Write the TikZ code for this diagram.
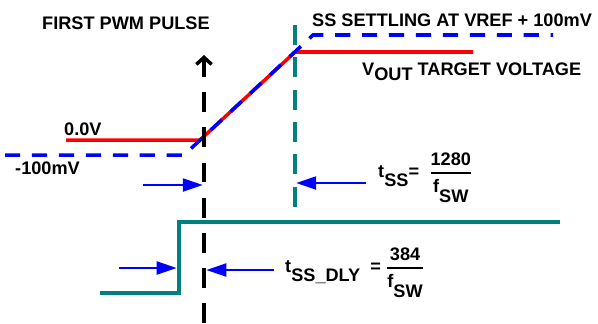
\documentclass[tikz,border=0pt]{standalone}
\usepackage{amsmath}
\usepackage{fontspec}
\setmainfont{Liberation Sans}
\usetikzlibrary{arrows.meta}
\newcommand{\lowsub}[2][8.5pt]{\raisebox{-#1}{#2}}
\tikzset{
  lbl/.style={font=\fontsize{15.5}{18}\selectfont\bfseries, inner sep=0pt},
  vtarget/.style={red, line width=3pt},
  ssramp/.style={blue, line width=3pt, dash pattern=on 13pt off 10pt},
  pwmline/.style={black, line width=3pt, dash pattern=on 17pt off 13pt},
  swline/.style={teal, line width=3pt},
  settle/.style={teal, line width=3pt, dash pattern=on 17pt off 10.6pt},
  dimarrow/.style={blue, line width=2pt, -{Triangle[length=17pt,width=11pt]}},
}
\begin{document}
\begin{tikzpicture}[x=0.03cm, y=-0.03cm]
\useasboundingbox (0,0) rectangle (598,323);
% vout target (red) and soft-start ramp (blue)
\coordinate (r0) at (66,140);
\coordinate (r1) at (200,140);
\coordinate (r2) at (295,52);
\coordinate (r3) at (473,52);
\coordinate (b0) at (5,155);
\coordinate (b1) at (184,155);
\coordinate (b2) at (313,35);
\coordinate (b3) at (553,35);
\draw[vtarget] (r0) -- (r1) -- (r2) -- (r3);
\draw[ssramp] (b0) -- (b1) -- (b2) -- (b3);
% first pwm pulse marker
\coordinate (pwmbot) at (204,323);
\coordinate (pwmtop) at (204,55);
\draw[pwmline, -{Straight Barb[length=6pt,width=13pt]}] (pwmbot) -- (pwmtop);
% settling marker
\coordinate (settop) at (295,25);
\coordinate (setbot) at (295,207);
\draw[settle] (settop) -- (setbot);
% switching node
\coordinate (s0) at (100,293);
\coordinate (s1) at (179,293);
\coordinate (s2) at (179,222);
\coordinate (s3) at (560,222);
\draw[swline] (s0) -- (s1) -- (s2) -- (s3);
% labels
\node[lbl, anchor=base west] (pwmlbl) at (42,29) {FIRST PWM PULSE};
\node[lbl, anchor=base west] (setlbl) at (312,26) {SS SETTLING AT VREF + 100mV};
\node[lbl, anchor=base west] (voutlbl) at (362,75) {V\lowsub[4.5pt]{OUT} TARGET VOLTAGE};
\node[lbl, anchor=base west] (zerolbl) at (64,135) {0.0V};
\node[lbl, anchor=base west] (neglbl) at (15,174) {-100mV};
\node[lbl, anchor=base west] (tsslbl) at (378,177)
  {t\lowsub{SS}=\ \ $\genfrac{}{}{1.6pt}{0}{\mbox{1280}}{\mbox{f\lowsub{SW}}}$};
\node[lbl, anchor=base west] (dlylbl) at (285,272)
  {t\lowsub{SS\_DLY}\ \ =\ $\genfrac{}{}{1.6pt}{0}{\mbox{384}}{\mbox{f\lowsub{SW}}}$};
% timing arrows
\coordinate (tssA0) at (143,185);
\coordinate (tssA1) at (pwmbot |- tssA0);
\coordinate (tssB0) at (366,183);
\coordinate (tssB1) at (setbot |- tssB0);
\draw[dimarrow] (tssA0) -- ([xshift=-1]tssA1);
\draw[dimarrow] (tssB0) -- ([xshift=1]tssB1);
\coordinate (dlyA0) at (119,268);
\coordinate (dlyA1) at (s1 |- dlyA0);
\coordinate (dlyB0) at (274,270);
\coordinate (dlyB1) at (pwmbot |- dlyB0);
\draw[dimarrow] (dlyA0) -- ([xshift=-2]dlyA1);
\draw[dimarrow] (dlyB0) -- ([xshift=2]dlyB1);
\end{tikzpicture}
\end{document}
